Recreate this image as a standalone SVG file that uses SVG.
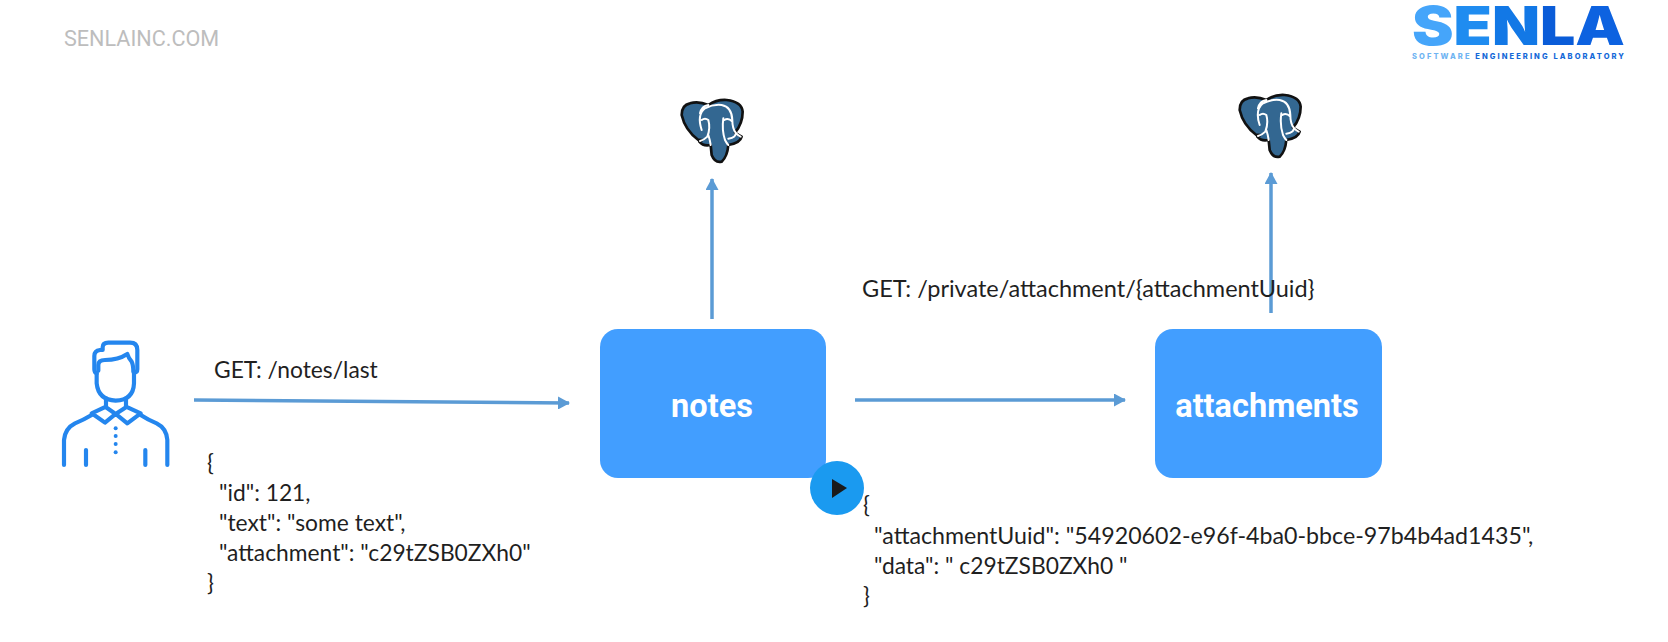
<svg xmlns="http://www.w3.org/2000/svg" xmlns:xlink="http://www.w3.org/1999/xlink" width="1668" height="642" viewBox="0 0 1668 642">
<style>
.box{fill:#429eff}
.nl{font-family:Roboto,"Liberation Sans",sans-serif;font-weight:700;font-size:32.5px;fill:#fff;text-anchor:middle}
.t{font-family:Lato,"Noto Sans",sans-serif;font-size:22.8px;fill:#1f1f1f}
.c{stroke:#5b9bd5;stroke-width:3.5;fill:none;marker-end:url(#a)}
.p{fill:none;stroke:#2486ee;stroke-width:12.5;stroke-linecap:round;stroke-linejoin:round}
</style>
<defs>
<marker id="a" markerUnits="userSpaceOnUse" markerWidth="13" markerHeight="13" refX="11" refY="6.5" orient="auto"><path d="M0 0L12 6.5L0 13Z" fill="#5b9bd5"/></marker>
<g id="pg" transform="translate(670 90) scale(.3333)">
<path d="M35 75Q35 45 60 40Q85 32 115 45Q140 28 170 30Q215 35 218 65Q218 100 195 128Q205 135 215 140Q210 160 175 165Q172 200 155 215Q135 220 125 195L122 165Q100 170 88 155Q105 148 85 150Q45 120 35 75Z" fill="#336791" stroke="#111" stroke-width="8" stroke-linejoin="round"/>
<path d="M95 120Q80 75 105 55Q130 42 155 45Q185 50 187 90Q187 115 197 128Q205 138 212 140M115 45Q95 48 90 70M160 85Q155 120 165 150Q170 160 175 165M95 90Q105 82 115 90Q122 115 112 140Q102 150 90 153M187 95Q175 82 163 90M122 165Q120 150 115 135M197 128Q200 142 175 146" fill="none" stroke="#fff" stroke-width="6" stroke-linecap="round"/>
</g>
</defs>
<rect width="1668" height="642" fill="#fff"/>
<text x="64" y="46" font-family="Roboto,'Liberation Sans',sans-serif" font-size="21.6" fill="#bdbdbd">SENLAINC.COM</text>
<g id="logo">
<text x="1412" y="45" textLength="213" lengthAdjust="spacingAndGlyphs" font-family="Inter,Roboto,sans-serif" font-weight="900" font-size="53"><tspan fill="#45a5fa">S</tspan><tspan fill="#1f8cf0">E</tspan><tspan fill="#1278e6">N</tspan><tspan fill="#0a5cd8">L</tspan><tspan fill="#0d62e0">A</tspan></text>
<text x="1412" y="59" textLength="212" font-family="Inter,Roboto,sans-serif" font-weight="800" font-size="7.5"><tspan fill="#6fb4f2">SOFTWARE </tspan><tspan fill="#1468d8">ENGINEERING LABORATORY</tspan></text>
</g>
<g id="connectors">
<path class="c" d="M194 400L569 403"/>
<path class="c" d="M855 400H1125"/>
<path class="c" d="M712 319V179"/>
<path class="c" d="M1271 313V173"/>
</g>
<g id="user" transform="translate(50 330) scale(.3333)">
<path class="p" d="M140 130Q133 128 133 118V78Q133 62 150 60H158V52Q158 38 175 38H240Q262 38 262 60V118Q262 128 252 128"/>
<path class="p" d="M145 122V105Q145 90 165 90Q205 90 232 72Q236 85 245 95Q250 105 250 125"/>
<path class="p" d="M140 130V160Q145 210 197 212Q250 210 252 160V128"/>
<path class="p" d="M168 205V230M228 205V230M168 230L125 250L165 278L197 252L232 280L272 250L228 230M168 232L197 252L228 232"/>
<path class="p" d="M125 255Q100 270 75 280Q45 295 42 330V405M272 255Q295 270 320 280Q350 295 352 330V405M108 360V405M286 360V405"/>
<g fill="#2486ee"><circle cx="197" cy="295" r="6"/><circle cx="197" cy="318" r="6"/><circle cx="197" cy="342" r="6"/><circle cx="197" cy="367" r="6"/></g>
</g>
<g id="notes"><rect class="box" x="600" y="329" width="226" height="149" rx="18"/><text class="nl" x="712" y="417">notes</text></g>
<g id="attachments"><rect class="box" x="1155" y="329" width="227" height="149" rx="18"/><text class="nl" x="1267" y="417">attachments</text></g>
<g id="db-notes"><use xlink:href="#pg" href="#pg"/></g>
<g id="db-attachments"><use xlink:href="#pg" href="#pg" x="558" y="-5"/></g>
<g id="labels">
<text class="t" x="214" y="378">GET: /notes/last</text>
<text class="t" x="862" y="297" style="font-size:23.5px">GET: /private/attachment/{attachmentUuid}</text>
<text class="t" x="207" y="471">{</text>
<text class="t" x="219" y="501">"id": 121,</text>
<text class="t" x="219" y="531">"text": "some text",</text>
<text class="t" x="219" y="561">"attachment": "c29tZSB0ZXh0"</text>
<text class="t" x="207" y="591">}</text>
<text class="t" x="863" y="513">{</text>
<text class="t" x="874" y="544" style="font-size:23.2px">"attachmentUuid": "54920602-e96f-4ba0-bbce-97b4b4ad1435",</text>
<text class="t" x="874" y="574">"data": " c29tZSB0ZXh0 "</text>
<text class="t" x="863" y="604">}</text>
</g>
<g id="play"><circle cx="837" cy="488" r="27" fill="#1a9af0"/><path d="M832 479L847 488L832 498Z" fill="#1a1a1a"/></g>
</svg>
